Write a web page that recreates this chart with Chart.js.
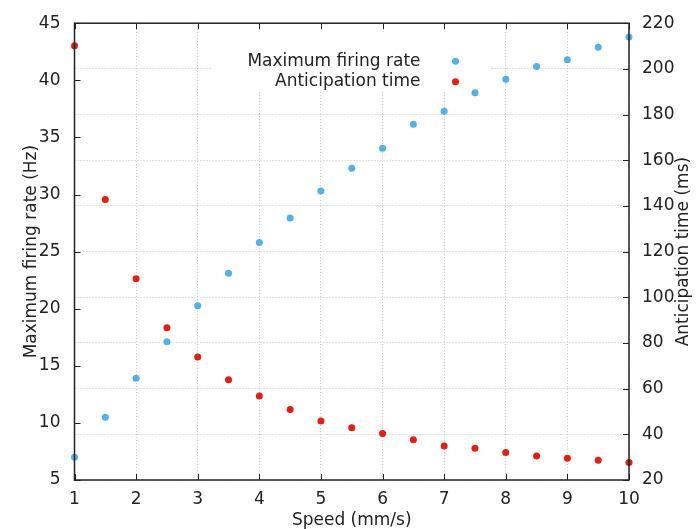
<!DOCTYPE html>
<html>
<head>
<meta charset="utf-8">
<script src="https://cdn.jsdelivr.net/npm/chart.js@4.4.1/dist/chart.umd.min.js"></script>
<style>
  html, body { margin: 0; padding: 0; background: #fff; }
</style>
</head>
<body>
<canvas id="chart" width="696" height="529"></canvas>
<script>
// data
const speeds = [1, 1.5, 2, 2.5, 3, 3.5, 4, 4.5, 5, 5.5, 6, 6.5, 7, 7.5, 8, 8.5, 9, 9.5, 10];
const firingRate = [7.0, 10.5, 13.9, 17.1, 20.25, 23.1, 25.8, 27.95, 30.3, 32.3, 34.05, 36.15, 37.3, 38.9, 40.1, 41.2, 41.8, 42.9, 43.8];
const anticipation = [210.1, 142.8, 108.1, 86.7, 73.8, 63.9, 56.8, 50.9, 45.8, 42.9, 40.4, 37.6, 34.9, 33.9, 32.0, 30.5, 29.5, 28.6, 27.7];
const seriesNames = ["Maximum firing rate", "Anticipation time"];

const BLUE = "#52b2e8";
const RED = "#e41f12";
const FONT = "DejaVu Sans";

/***********************
 * legend, frame, inward ticks, right title
 ***********************/
const decor = {
  id: "decor",
  beforeDatasetsDraw(chart) {
    const { ctx, chartArea } = chart;
    // white legend box hides the grid behind it
    ctx.save();
    ctx.fillStyle = "#fff";
    ctx.fillRect(chartArea.left + 138, chartArea.top, 278, 68);
    ctx.restore();
  },
  afterDatasetsDraw(chart) {
    const { ctx, chartArea, scales } = chart;
    const { left, right, top, bottom } = chartArea;
    ctx.save();

    // legend
    ctx.font = "17px " + FONT;
    ctx.textAlign = "right";
    ctx.textBaseline = "middle";
    const colors = [BLUE, RED];
    seriesNames.forEach((name, i) => {
      const y = top + 38 + i * 20.5;
      ctx.fillStyle = "#222";
      ctx.fillText(name, left + 346, y);
      ctx.fillStyle = colors[i];
      ctx.beginPath();
      ctx.arc(left + 381, y, 3.5, 0, Math.PI * 2);
      ctx.fill();
    });

    // frame
    ctx.strokeStyle = "#222";
    ctx.lineWidth = 1.5;
    ctx.strokeRect(left, top, right - left, bottom - top);

    // inward ticks
    ctx.lineWidth = 1;
    ctx.beginPath();
    scales.x.ticks.forEach(t => {
      const px = Math.round(scales.x.getPixelForValue(t.value)) + 0.5;
      ctx.moveTo(px, bottom); ctx.lineTo(px, bottom - 6);
      ctx.moveTo(px, top); ctx.lineTo(px, top + 6);
    });
    scales.y.ticks.forEach(t => {
      const py = Math.round(scales.y.getPixelForValue(t.value)) + 0.5;
      ctx.moveTo(left, py); ctx.lineTo(left + 6, py);
    });
    scales.y2.ticks.forEach(t => {
      const py = Math.round(scales.y2.getPixelForValue(t.value)) + 0.5;
      ctx.moveTo(right, py); ctx.lineTo(right - 6, py);
    });
    ctx.stroke();

    // right axis title, reading bottom to top
    ctx.translate(684, (top + bottom) / 2);
    ctx.rotate(-Math.PI / 2);
    ctx.font = "17px " + FONT;
    ctx.fillStyle = "#222";
    ctx.textAlign = "center";
    ctx.textBaseline = "middle";
    ctx.fillText("Anticipation time (ms)", 0, 0);
    ctx.restore();
  }
};

new Chart(document.getElementById("chart"), {
  type: "scatter",
  data: {
    datasets: [
      {
        label: seriesNames[0],
        data: speeds.map((s, i) => ({ x: s, y: firingRate[i] })),
        yAxisID: "y",
        backgroundColor: BLUE,
        borderWidth: 0,
        pointRadius: 3.5,
        clip: false
      },
      {
        label: seriesNames[1],
        data: speeds.map((s, i) => ({ x: s, y: anticipation[i] })),
        yAxisID: "y2",
        backgroundColor: RED,
        borderWidth: 0,
        pointRadius: 3.5,
        clip: false
      }
    ]
  },
  options: {
    responsive: false,
    animation: false,
    layout: { padding: { top: 23, left: 0, right: 0, bottom: 0 } },
    plugins: {
      legend: { display: false },
      tooltip: { enabled: false }
    },
    scales: {
      x: {
        type: "linear",
        min: 1, max: 10,
        afterFit: s => { s.height = 49; },
        ticks: { stepSize: 1, padding: 9, color: "#222", font: { family: FONT, size: 17 } },
        grid: { color: "#c4c4c4", lineWidth: 1, drawTicks: false },
        border: { display: false, dash: [1, 2] },
        title: { display: true, text: "Speed (mm/s)", color: "#222", font: { family: FONT, size: 17 }, padding: { top: 0, bottom: -2 } }
      },
      y: {
        position: "left",
        min: 5, max: 45,
        afterFit: s => { s.width = 74.5; },
        ticks: { stepSize: 5, padding: 6, color: "#222", font: { family: FONT, size: 17 } },
        grid: { display: false },
        border: { display: false },
        title: { display: true, text: "Maximum firing rate (Hz)", color: "#222", font: { family: FONT, size: 17 }, padding: { top: 21, bottom: 0 } }
      },
      y2: {
        position: "right",
        min: 20, max: 220,
        afterFit: s => { s.width = 67; },
        ticks: { stepSize: 20, padding: 13, color: "#222", font: { family: FONT, size: 17 } },
        grid: { color: "#c4c4c4", lineWidth: 1, drawTicks: false },
        border: { display: false, dash: [1, 2] }
      }
    }
  },
  plugins: [decor]
});
</script>
</body>
</html>
